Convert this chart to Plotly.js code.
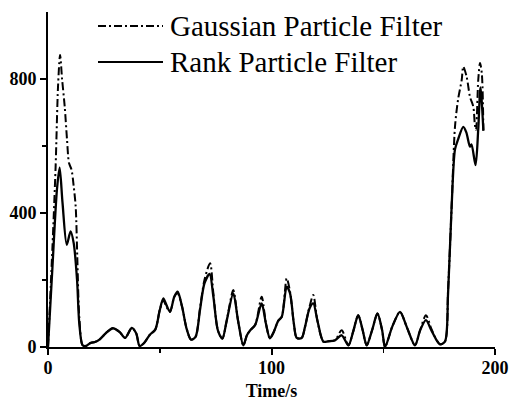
<!DOCTYPE html>
<html>
<head>
<meta charset="utf-8">
<script src="https://cdn.plot.ly/plotly-3.0.1.min.js"></script>
<style>
  html, body { margin: 0; padding: 0; background: #fff; }
  #chart { width: 509px; height: 401px; }
</style>
</head>
<body>
<div id="chart"></div>
<script>
// Rank particle filter error over time
const rankTime = [0, 2, 4, 5.2, 6.5, 8.4, 10.1, 11.5, 13, 14, 15.5, 17, 19, 21, 23, 26, 29, 32, 34.5, 37.5,
  39.5, 41, 43, 45.5, 48, 50, 51.6, 53, 54.6, 56.5, 58, 60, 62, 64, 66, 68, 70, 72.3, 74, 76,
  78, 80, 82.9, 85, 87.4, 89, 90.5, 92.7, 95.6, 97.5, 99.3, 101, 103, 104.6, 106.8, 108.3, 110, 111.3, 113.5, 115,
  117, 118.7, 120.5, 123.2, 125.3, 128.4, 131.4, 134.4, 136.5, 138.8, 140.8, 142.6, 145, 147.4, 149.5, 150.8, 154, 157.5, 160.5, 164.2,
  166.5, 169.1, 171.5, 173.9, 175.4, 177.6, 179, 180.6, 182.1, 183.5, 185.8, 187.2, 188.8, 189.5, 191.3, 192.5, 193.5, 194.8];
const rankValue = [0, 240, 470, 535, 430, 305, 345, 310, 200, 70, 5, 3, 12, 15, 22, 42, 56, 45, 27, 57,
  40, 3, 12, 36, 52, 110, 145, 125, 105, 150, 165, 120, 55, 22, 30, 110, 190, 218, 150, 50,
  25, 80, 160, 80, 5, 35, 50, 66, 130, 70, 26, 45, 78, 90, 180, 160, 70, 27, 27, 60,
  115, 130, 80, 16, 17, 20, 35, 5, 45, 95, 50, 5, 50, 100, 50, 0, 60, 105, 60, 5,
  50, 80, 50, 20, 8, 16, 160, 420, 590, 620, 657, 640, 598, 605, 543, 650, 775, 645];

// Gaussian particle filter error over time
const gaussTime = [0, 2, 3.4, 4.5, 5.4, 6.3, 7.5, 8.5, 9.4, 10.5, 11.5, 12.4, 13.1, 14, 15.5, 17, 19, 21, 23, 26,
  29, 32, 34.5, 37.5, 39.5, 41, 43, 45.5, 48, 50, 51.6, 53, 54.6, 56.5, 58, 60, 62, 64, 66, 68,
  70, 72.5, 74, 76, 78, 80, 82.9, 85, 87.4, 89, 90.5, 92.7, 95.6, 97.5, 99.3, 101, 103, 104.6, 106.8, 108.3,
  110, 111.3, 113.5, 115, 117, 118.7, 120.5, 123.2, 125.3, 128.4, 131.4, 134.4, 136.5, 138.8, 140.8, 142.6, 145, 147.4, 149.5, 150.8,
  154, 157.5, 160.5, 164.2, 166.5, 169.1, 171.5, 173.9, 175.4, 177.6, 179, 180.6, 182.1, 183.5, 185.1, 185.8, 187.3, 188.8, 190.3, 191,
  191.5, 192.5, 193.3, 194.1, 194.8];
const gaussValue = [0, 300, 537, 780, 872, 800, 716, 620, 549, 530, 480, 418, 269, 90, 5, 3, 12, 15, 22, 42,
  56, 45, 27, 57, 40, 3, 12, 36, 52, 110, 140, 120, 105, 150, 160, 120, 55, 22, 30, 115,
  200, 250, 160, 50, 25, 80, 170, 80, 5, 35, 50, 66, 150, 70, 26, 45, 78, 90, 205, 165,
  70, 27, 27, 60, 120, 155, 80, 16, 17, 20, 50, 5, 45, 95, 50, 5, 50, 100, 50, 0,
  60, 105, 60, 5, 50, 95, 55, 20, 8, 16, 170, 419, 658, 740, 797, 837, 807, 747, 717, 663,
  648, 797, 848, 817, 648];

const xTickVals = [0, 100, 200];
const yTickVals = [0, 400, 800];
const seriesNames = ['Gaussian Particle Filter', 'Rank Particle Filter'];

const serif = '"Liberation Serif", "Times New Roman", serif';
const dashDot = '8px,3px,2px,3px';

const traces = [
  {
    x: gaussTime, y: gaussValue, type: 'scatter', mode: 'lines', name: seriesNames[0],
    line: { color: '#000', width: 2, dash: dashDot, shape: 'spline', smoothing: 0.8 }
  },
  {
    x: rankTime, y: rankValue, type: 'scatter', mode: 'lines', name: seriesNames[1],
    line: { color: '#000', width: 2.3, shape: 'spline', smoothing: 0.8 }
  }
];

// plot-area helpers for placing the key in pixel terms
const W = 509, H = 401, mL = 48, mR = 14, mT = 12, mB = 54;
const px = v => (v - mL) / (W - mL - mR);
const py = v => (H - mB - v) / (H - mT - mB);

const keyRows = [26, 62];
const shapes = keyRows.map((y, i) => ({
  type: 'line', xref: 'paper', yref: 'paper',
  x0: px(98), x1: px(163), y0: py(y), y1: py(y),
  line: { color: '#000', width: 2, dash: i === 0 ? dashDot : 'solid' }
}));
const annotations = keyRows.map((y, i) => ({
  xref: 'paper', yref: 'paper', x: px(168), y: py(y),
  xanchor: 'left', yanchor: 'middle', showarrow: false,
  text: seriesNames[i], font: { family: serif, size: 29, color: '#000' }
}));

const axisCommon = {
  showgrid: false, zeroline: false, showline: true, linecolor: '#000', linewidth: 2,
  ticks: 'outside', ticklen: 6, tickwidth: 2, tickcolor: '#000',
  tickfont: { family: serif, size: 18, color: '#000', weight: 'bold' }
};

const layout = {
  width: W, height: H,
  margin: { l: mL, r: mR, t: mT, b: mB },
  paper_bgcolor: '#fff', plot_bgcolor: '#fff',
  showlegend: false,
  xaxis: Object.assign({}, axisCommon, {
    range: [0, 200], tickvals: xTickVals, ticktext: xTickVals.map(String),
    ticklabelstandoff: -3,
    minor: { tickvals: [50, 150], ticks: 'outside', ticklen: 4, tickwidth: 1.5, tickcolor: '#000' },
    title: { text: 'Time/s', font: { family: serif, size: 18, color: '#000', weight: 'bold' }, standoff: 12 }
  }),
  yaxis: Object.assign({}, axisCommon, {
    range: [0, 1000], tickvals: yTickVals, ticktext: yTickVals.map(String),
    minor: { tickvals: [200, 600], ticks: 'outside', ticklen: 4, tickwidth: 1.5, tickcolor: '#000' }
  }),
  shapes: shapes,
  annotations: annotations
};

Plotly.newPlot('chart', traces, layout, { displayModeBar: false, staticPlot: true });
</script>
</body>
</html>
